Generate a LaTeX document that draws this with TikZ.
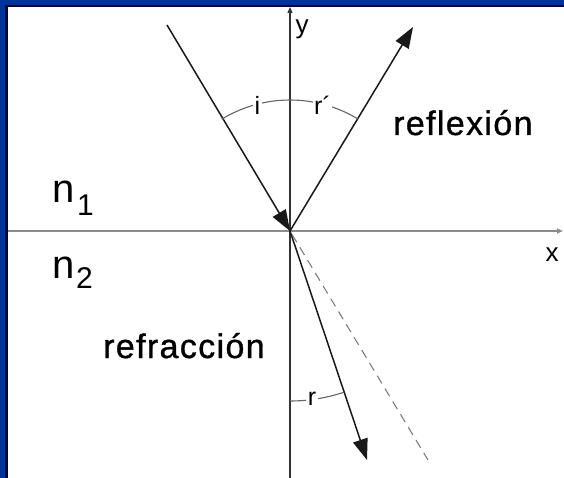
\documentclass[tikz,border=0pt]{standalone}
\usepackage{fontspec}
\setmainfont{Liberation Sans}
\usetikzlibrary{arrows.meta}
\definecolor{frameblue}{RGB}{0,51,153}
\definecolor{framedark}{RGB}{0,8,45}

\begin{document}
\begin{tikzpicture}[
  x=1pt, y=-1pt,
  ray/.style={line width=1.5pt, draw=black!90, -{Triangle[length=21pt,width=15pt]}},
  axisline/.style={-{Triangle[length=6pt,width=5pt]}},
  dashray/.style={line width=1pt, draw=black!55, dash pattern=on 9pt off 6pt},
  angarc/.style={line width=1.1pt, draw=black!60},
  anglab/.style={fill=white, inner sep=1.5pt, font=\fontsize{25}{25}\selectfont},
  axlab/.style={inner sep=0pt, font=\fontsize{26}{26}\selectfont},
  word/.style={anchor=base west, inner sep=0pt, font=\fontsize{34}{34}\selectfont\addfontfeature{LetterSpace=4,FakeBold=1}},
  medium/.style={anchor=base west, inner sep=0pt, font=\fontsize{40}{40}\selectfont},
  index/.style={anchor=base west, inner sep=0pt, font=\fontsize{30}{30}\selectfont}
]
\useasboundingbox (0,0) rectangle (564,478);

% frame
\fill[frameblue] (0,0) rectangle (564,5);
\fill[frameblue] (0,0) rectangle (5,478);
\fill[framedark] (5,5) rectangle (564,7);
\fill[framedark] (5,5) rectangle (8,478);

% axes
\coordinate (O) at (290,231);
\coordinate (xstart) at (8,231);
\coordinate (xend) at (563,231);
\coordinate (ystart) at (290,478);
\coordinate (yend) at (290,7);
\draw[axisline, line width=2.2pt, draw=black!45] (xstart) -- (xend);
\draw[axisline, line width=1.2pt, draw=black!80] (ystart) -- (yend);
\node[axlab] (ylab) at (302,29) {y};
\node[axlab] (xlab) at (552,255) {x};

% rays
\coordinate (inc) at (167,25);
\coordinate (refl) at (413,27);
\coordinate (refr) at (367,460);
\coordinate (dashend) at (428,460);
\draw[ray] (inc) -- (O);
\draw[ray] (O) -- (refl);
\draw[ray] (O) -- (refr);
\draw[dashray, dash phase=-4pt] (O) -- (dashend);

% angles
\draw[angarc] (O) ++(238.6:131) arc[start angle=238.6, end angle=301.2, radius=131];
\draw[angarc] (O) ++(90:170) arc[start angle=90, end angle=71.5, radius=170];
\path (O) ++(255.5:130) node[anglab] (ilab) {i};
\path (O) ++(284.5:130) node[anglab] (rplab) {r´};
\path (O) ++(82.5:169) node[anglab] (rlab) {r};

% media
\node[medium] (n1) at (52,203) {n};
\node[index] (sub1) at (77,215) {1};
\node[medium] (n2) at (52,278) {n};
\node[index] (sub2) at (76,288) {2};

\node[word] (reflexion) at (393,135) {reflexión};
\node[word] (refraccion) at (103,358) {refracción};

\end{tikzpicture}
\end{document}
